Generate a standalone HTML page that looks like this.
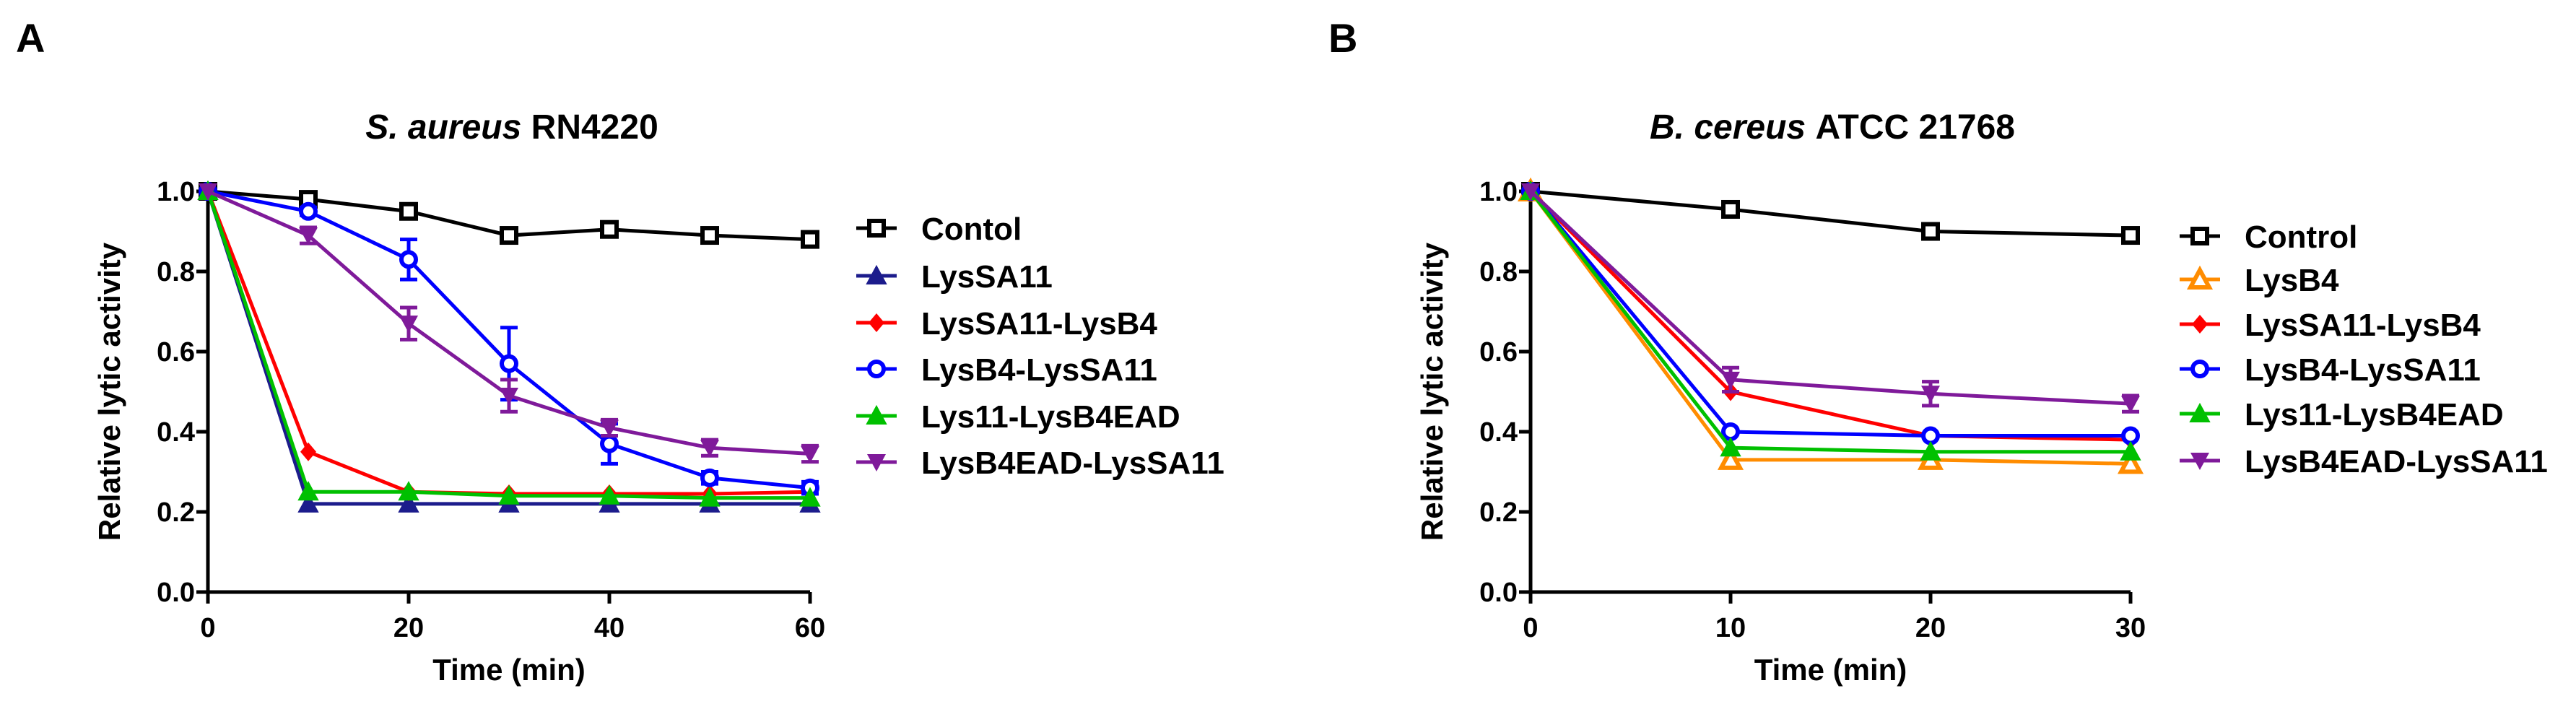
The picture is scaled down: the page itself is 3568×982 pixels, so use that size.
<!DOCTYPE html>
<html><head><meta charset="utf-8"><style>
html,body{margin:0;padding:0;background:#fff;}
svg{display:block;font-family:"Liberation Sans",Arial,sans-serif;font-weight:bold;}
</style></head><body>
<svg id="c" width="3568" height="982" viewBox="0 0 3568 982" xmlns="http://www.w3.org/2000/svg"></svg>
<script>
// ---- Panel A data ----
const timesA = [0,10,20,30,40,50,60];
const xTicksA = [0,20,40,60];
const seriesNamesA = ["Contol","LysSA11","LysSA11-LysB4","LysB4-LysSA11","Lys11-LysB4EAD","LysB4EAD-LysSA11"];
const controlA = [1.0,0.98,0.95,0.89,0.905,0.89,0.88];
const lysSA11A = [1.0,0.22,0.22,0.22,0.22,0.22,0.22];
const sa11b4A  = [1.0,0.35,0.25,0.245,0.245,0.245,0.25];
const b4sa11A  = [1.0,0.95,0.83,0.57,0.37,0.285,0.26];
const lys11eadA= [1.0,0.25,0.25,0.24,0.24,0.235,0.235];
const eadsa11A = [1.0,0.89,0.67,0.49,0.41,0.36,0.345];
const errB4sa11A = [0,0.01,0.05,0.09,0.05,0.015,0.015];
const errEadA    = [0,0.02,0.04,0.04,0.02,0.02,0.02];
// ---- Panel B data ----
const timesB = [0,10,20,30];
const xTicksB = [0,10,20,30];
const seriesNamesB = ["Control","LysB4","LysSA11-LysB4","LysB4-LysSA11","Lys11-LysB4EAD","LysB4EAD-LysSA11"];
const controlB = [1.0,0.955,0.9,0.89];
const lysB4B   = [1.0,0.33,0.33,0.32];
const sa11b4B  = [1.0,0.5,0.39,0.38];
const b4sa11B  = [1.0,0.4,0.39,0.39];
const lys11eadB= [1.0,0.36,0.35,0.35];
const eadsa11B = [1.0,0.53,0.495,0.47];
const errEadB  = [0,0.03,0.03,0.02];
const yTicks = [0.0,0.2,0.4,0.6,0.8,1.0];

const NS="http://www.w3.org/2000/svg";
const svg=document.getElementById('c');
function el(tag,attrs,parent){const e=document.createElementNS(NS,tag);for(const k in attrs)e.setAttribute(k,attrs[k]);(parent||svg).appendChild(e);return e;}

function marker(g,type,cx,cy,color){
  const s=13;let m;
  if(type==='sq'){m=el('rect',{x:cx-s+3,y:cy-s+3,width:2*s-6,height:2*s-6,fill:'#fff',stroke:color,'stroke-width':6},g);}
  else if(type==='circ'){m=el('circle',{cx:cx,cy:cy,r:s-3,fill:'#fff',stroke:color,'stroke-width':6},g);}
  else if(type==='tri'||type==='otri'){m=el('polygon',{points:`${cx},${cy-s} ${cx+s},${cy+s-2} ${cx-s},${cy+s-2}`,fill:type==='tri'?color:'#fff',stroke:color,'stroke-width':type==='tri'?2:6},g);}
  else if(type==='dtri'){m=el('polygon',{points:`${cx-s},${cy-s+2} ${cx+s},${cy-s+2} ${cx},${cy+s}`,fill:color},g);}
  else if(type==='dia'){m=el('polygon',{points:`${cx},${cy-s} ${cx+s-2},${cy} ${cx},${cy+s} ${cx-s+2},${cy}`,fill:color},g);}
  
  
}

function panel(cfg){
  const g=el('g',{});
  
  
  const xs=v=>cfg.x0+(v-cfg.xmin)/(cfg.xmax-cfg.xmin)*(cfg.x1-cfg.x0);
  const ys=v=>cfg.y0-(v)*(cfg.y0-cfg.y1);
  const lab=el('text',{x:cfg.labX,y:72,'font-size':56},g);lab.textContent=cfg.label;
  
  const t=el('text',{x:cfg.titleX,y:192,'font-size':48,'text-anchor':'middle'},g);
  const ti=el('tspan',{'font-style':'italic'},t);ti.textContent=cfg.titleIt;
  const tr=el('tspan',{},t);tr.textContent=cfg.titleRest;
  
  const ax=el('path',{d:`M${cfg.x0},${cfg.y1-5} V${cfg.y0} H${cfg.x1}`,stroke:'#000','stroke-width':5,fill:'none'},g);
  
  yTicks.forEach(v=>{
    el('line',{x1:cfg.x0-16,x2:cfg.x0,y1:ys(v),y2:ys(v),stroke:'#000','stroke-width':5},g);
    const tx=el('text',{x:cfg.x0-18,y:ys(v)+13,'font-size':38,'text-anchor':'end'},g);tx.textContent=v.toFixed(1);
    
  });
  cfg.xTicks.forEach(v=>{
    el('line',{x1:xs(v),x2:xs(v),y1:cfg.y0,y2:cfg.y0+16,stroke:'#000','stroke-width':5},g);
    const tx=el('text',{x:xs(v),y:882,'font-size':38,'text-anchor':'middle'},g);tx.textContent=v;
    
  });
  const xt=el('text',{x:(cfg.x0+cfg.x1)/2,y:942,'font-size':42,'text-anchor':'middle'},g);xt.textContent='Time (min)';
  
  const yx=cfg.x0-122,yy=(cfg.y0+cfg.y1)/2;
  const yt=el('text',{x:yx,y:yy,'font-size':42,'text-anchor':'middle',transform:`rotate(-90 ${yx} ${yy})`},g);yt.textContent='Relative lytic activity';
  
  cfg.series.forEach(s=>{
    const sg=el('g',{},g);
    
    
    const pts=s.vals.map((v,i)=>`${xs(cfg.times[i])},${ys(v)}`).join(' ');
    el('polyline',{points:pts,fill:'none',stroke:s.color,'stroke-width':5},sg);
    if(s.err)s.vals.forEach((v,i)=>{if(!s.err[i])return;const x=xs(cfg.times[i]);
      el('path',{d:`M${x},${ys(v+s.err[i])} V${ys(v-s.err[i])} M${x-12},${ys(v+s.err[i])} h24 M${x-12},${ys(v-s.err[i])} h24`,stroke:s.color,'stroke-width':5,fill:'none'},sg);});
    s.vals.forEach((v,i)=>marker(sg,s.m,xs(cfg.times[i]),ys(v),s.color));
  });
  cfg.series.forEach((s,i)=>{
    const lg=el('g',{},g);
    
    
    const y=cfg.legY[i];
    el('line',{x1:cfg.legX-28,x2:cfg.legX+28,y1:y,y2:y,stroke:s.color,'stroke-width':5},lg);
    marker(lg,s.m,cfg.legX,y,s.color);
    const tx=el('text',{x:cfg.legX+62,y:y+16,'font-size':44},lg);tx.textContent=s.name;
  });
}

panel({name:'panel-a',label:'A',labX:22,titleX:709,titleIt:'S. aureus ',titleRest:'RN4220',
  x0:288,x1:1122,xmin:0,xmax:60,y0:820,y1:265,times:timesA,xTicks:xTicksA,
  legX:1214,legY:[316,382,447,511,576,640],
  series:[
   {name:seriesNamesA[0],vals:controlA,color:'#000000',m:'sq'},
   {name:seriesNamesA[1],vals:lysSA11A,color:'#1c1c8c',m:'tri'},
   {name:seriesNamesA[2],vals:sa11b4A,color:'#ff0000',m:'dia'},
   {name:seriesNamesA[3],vals:b4sa11A,color:'#0000ff',m:'circ',err:errB4sa11A},
   {name:seriesNamesA[4],vals:lys11eadA,color:'#00c000',m:'tri'},
   {name:seriesNamesA[5],vals:eadsa11A,color:'#7f1a9a',m:'dtri',err:errEadA}
  ]});
panel({name:'panel-b',label:'B',labX:1840,titleX:2538,titleIt:'B. cereus ',titleRest:'ATCC 21768',
  x0:2120,x1:2951,xmin:0,xmax:30,y0:820,y1:265,times:timesB,xTicks:xTicksB,
  legX:3047,legY:[327,387,449,511,573,638],
  series:[
   {name:seriesNamesB[0],vals:controlB,color:'#000000',m:'sq'},
   {name:seriesNamesB[1],vals:lysB4B,color:'#ff8c00',m:'otri'},
   {name:seriesNamesB[2],vals:sa11b4B,color:'#ff0000',m:'dia'},
   {name:seriesNamesB[3],vals:b4sa11B,color:'#0000ff',m:'circ'},
   {name:seriesNamesB[4],vals:lys11eadB,color:'#00c000',m:'tri'},
   {name:seriesNamesB[5],vals:eadsa11B,color:'#7f1a9a',m:'dtri',err:errEadB}
  ]});
</script>
</body></html>
